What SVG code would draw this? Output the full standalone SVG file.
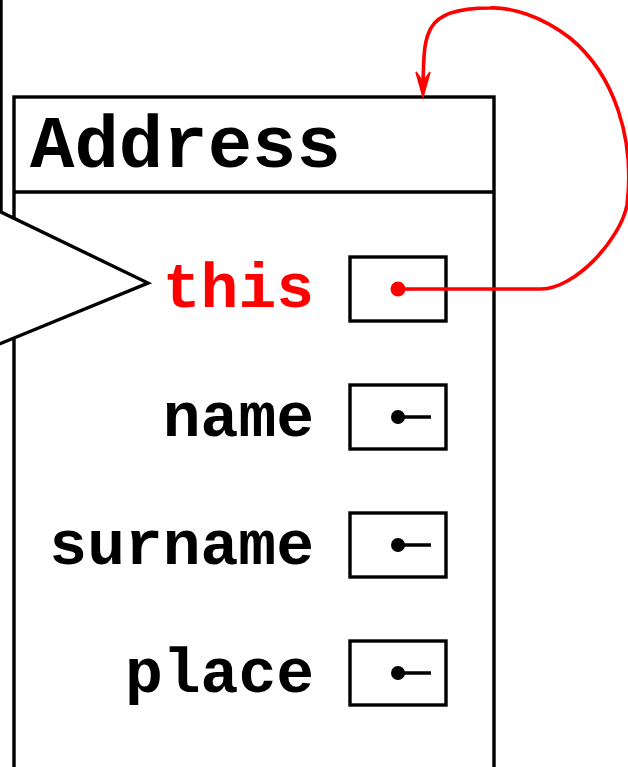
<svg xmlns="http://www.w3.org/2000/svg" width="628" height="767" viewBox="0 0 628 767">
<style>
.ln{fill:none;stroke:#000;stroke-width:3.4}
.cell{fill:#fff;stroke:#000;stroke-width:3.4}
.lbl{font-family:"Courier New","Liberation Mono",monospace;font-weight:bold;font-size:63px;fill:#000;text-anchor:end}
.hdr{font-family:"Courier New","Liberation Mono",monospace;font-weight:bold;font-size:74px;fill:#000}
.red{fill:#ff0000}
.dot{fill:#000}
</style>
<rect width="628" height="767" fill="#fff"/>
<g id="address">
<rect x="14" y="97" width="480" height="720" class="cell"/>
<line x1="14" y1="192" x2="494" y2="192" class="ln"/>
<text x="30" y="167" class="hdr">Address</text>
</g>
<g id="callout">
<path d="M1,-2 L1,212 L148,283 L-3,345 Z" fill="#fff" stroke="none"/>
<path d="M1,-2 L1,212 L148,283 L-3,345" class="ln"/>
</g>
<g id="field-this">
<text x="314" y="307" class="lbl red">this</text>
<rect x="350" y="257" width="96" height="64" class="cell"/>
<circle cx="398" cy="289" r="7.5" class="red"/>
</g>
<g id="field-name">
<text x="314" y="436" class="lbl">name</text>
<rect x="350" y="385" width="96" height="64" class="cell"/>
<circle cx="398" cy="417" r="7" class="dot"/>
<line x1="398" y1="417" x2="431" y2="417" class="ln"/>
</g>
<g id="field-surname">
<text x="314" y="564" class="lbl">surname</text>
<rect x="350" y="513" width="96" height="64" class="cell"/>
<circle cx="398" cy="545" r="7" class="dot"/>
<line x1="398" y1="545" x2="431" y2="545" class="ln"/>
</g>
<g id="field-place">
<text x="314" y="692" class="lbl">place</text>
<rect x="350" y="641" width="96" height="64" class="cell"/>
<circle cx="398" cy="673" r="7" class="dot"/>
<line x1="398" y1="673" x2="431" y2="673" class="ln"/>
</g>
<g id="connectors">
<path d="M398,289 L541,289 C575,289 620,240 627,205 C635,140 615,75 570,38 C540,15 510,7 490,8 C455,8 438,15 431,28 C423,42 424,60 423,82" fill="none" stroke="#ff0000" stroke-width="3.6"/>
<path d="M423,97 L416,72 L423,82 L430,72 Z" fill="#ff0000" stroke="#ff0000" stroke-width="1.5" stroke-linejoin="miter"/>
</g>
</svg>
